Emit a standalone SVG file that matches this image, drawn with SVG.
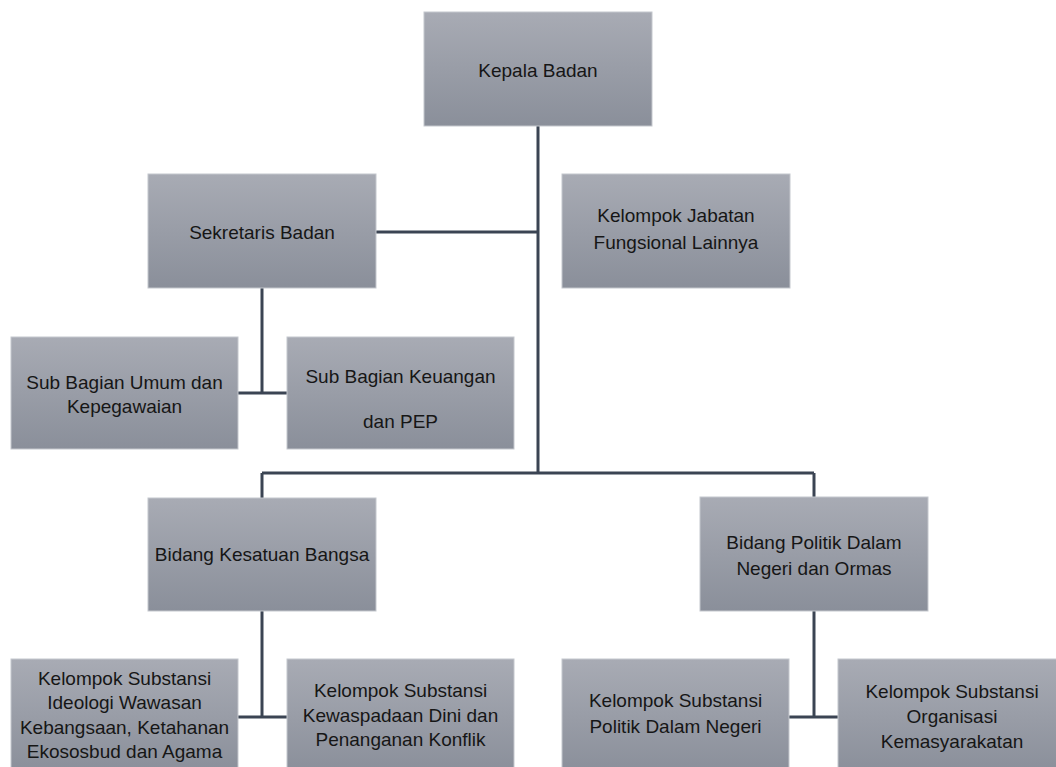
<svg xmlns="http://www.w3.org/2000/svg" width="1056" height="767" viewBox="0 0 1056 767">
<defs>
<linearGradient id="g" x1="0" y1="0" x2="0" y2="1">
<stop offset="0" stop-color="#a8abb4"/>
<stop offset="1" stop-color="#8a8f9a"/>
</linearGradient>
</defs>
<style>
.box{fill:url(#g);stroke:#c4c7cd;stroke-width:1}
.t{font-family:"Liberation Sans",Arial,sans-serif;font-size:19px;fill:#161616;text-anchor:middle}
.c{stroke:#3b4453;stroke-width:3;fill:none}
</style>
<rect width="1056" height="767" fill="#ffffff"/>
<g id="connectors">
<path class="c" d="M538 126V473"/>
<path class="c" d="M376 232H538"/>
<path class="c" d="M262 473H814"/>
<path class="c" d="M262 473V498"/>
<path class="c" d="M814 473V497"/>
<path class="c" d="M262 288V393"/>
<path class="c" d="M238 393H287"/>
<path class="c" d="M262 611V717"/>
<path class="c" d="M238 717H287"/>
<path class="c" d="M814 611V717"/>
<path class="c" d="M789 717H838"/>
</g>
<g id="kepala">
<rect class="box" x="424" y="12" width="228" height="114"/>
<text class="t" x="538" y="77">Kepala Badan</text>
</g>
<g id="sekretaris">
<rect class="box" x="148" y="174" width="228" height="114"/>
<text class="t" x="262" y="239">Sekretaris Badan</text>
</g>
<g id="jabatan">
<rect class="box" x="562" y="174" width="228" height="114"/>
<text class="t" x="676" y="222">Kelompok Jabatan</text>
<text class="t" x="676" y="249">Fungsional Lainnya</text>
</g>
<g id="subumum">
<rect class="box" x="11" y="337" width="227" height="112"/>
<text class="t" x="124.5" y="389">Sub Bagian Umum dan</text>
<text class="t" x="124.5" y="413">Kepegawaian</text>
</g>
<g id="subkeuangan">
<rect class="box" x="287" y="337" width="227" height="112"/>
<text class="t" x="400.5" y="383">Sub Bagian Keuangan</text>
<text class="t" x="400.5" y="428">dan PEP</text>
</g>
<g id="kesatuan">
<rect class="box" x="148" y="498" width="228" height="113"/>
<text class="t" x="262" y="561">Bidang Kesatuan Bangsa</text>
</g>
<g id="politik">
<rect class="box" x="700" y="497" width="228" height="114"/>
<text class="t" x="814" y="549">Bidang Politik Dalam</text>
<text class="t" x="814" y="575">Negeri dan Ormas</text>
</g>
<g id="ideologi">
<rect class="box" x="11" y="659" width="227" height="114"/>
<text class="t" x="124.5" y="685">Kelompok Substansi</text>
<text class="t" x="124.5" y="709">Ideologi Wawasan</text>
<text class="t" x="124.5" y="734">Kebangsaan, Ketahanan</text>
<text class="t" x="124.5" y="758">Ekososbud dan Agama</text>
</g>
<g id="kewaspadaan">
<rect class="box" x="287" y="659" width="227" height="114"/>
<text class="t" x="400.5" y="697">Kelompok Substansi</text>
<text class="t" x="400.5" y="722">Kewaspadaan Dini dan</text>
<text class="t" x="400.5" y="746">Penanganan Konflik</text>
</g>
<g id="politikdn">
<rect class="box" x="562" y="659" width="227" height="114"/>
<text class="t" x="675.5" y="707">Kelompok Substansi</text>
<text class="t" x="675.5" y="733">Politik Dalam Negeri</text>
</g>
<g id="ormas">
<rect class="box" x="838" y="659" width="228" height="114"/>
<text class="t" x="952" y="698">Kelompok Substansi</text>
<text class="t" x="952" y="723">Organisasi</text>
<text class="t" x="952" y="748">Kemasyarakatan</text>
</g>
</svg>
